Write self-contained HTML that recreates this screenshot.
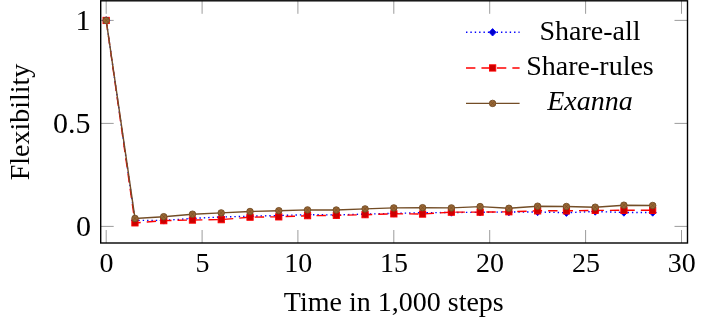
<!DOCTYPE html>
<html><head><meta charset="utf-8"><title>Flexibility chart</title>
<style>html,body{margin:0;padding:0;background:#fff;font-family:"Liberation Serif",serif}svg{display:block;will-change:transform}</style></head>
<body>
<svg width="705" height="326" viewBox="0 0 705 326">
<rect width="705" height="326" fill="#fff"/>
<path d="M106.2 243.0V230.0M106.2 0.8V13.8M202.1 243.0V230.0M202.1 0.8V13.8M297.9 243.0V230.0M297.9 0.8V13.8M393.8 243.0V230.0M393.8 0.8V13.8M489.7 243.0V230.0M489.7 0.8V13.8M585.6 243.0V230.0M585.6 0.8V13.8M681.5 243.0V230.0M681.5 0.8V13.8M100.7 226.4H113.7M687.5 226.4H674.5M100.7 123.4H113.7M687.5 123.4H674.5M100.7 20.4H113.7M687.5 20.4H674.5" stroke="#808080" stroke-width="0.78" fill="none"/>
<polyline points="106.2,20.4 135.0,220.4 163.7,220.4 192.5,218.4 221.2,217.0 250.0,216.2 278.8,215.5 307.5,214.7 336.3,214.9 365.1,214.1 393.8,213.4 422.6,212.7 451.4,212.5 480.1,212.3 508.9,212.0 537.6,212.0 566.4,212.7 595.2,211.5 623.9,212.5 652.7,212.5" fill="none" stroke="#0000ff" stroke-width="1.4" stroke-dasharray="1.4 2.97"/>
<path d="M106.2 16.7L109.7 20.4L106.2 24.1L102.7 20.4Z" fill="#0000cc" stroke="#0000ff" stroke-width="0.9" stroke-linejoin="miter"/>
<path d="M135.0 216.7L138.5 220.4L135.0 224.1L131.5 220.4Z" fill="#0000cc" stroke="#0000ff" stroke-width="0.9" stroke-linejoin="miter"/>
<path d="M163.7 216.7L167.2 220.4L163.7 224.1L160.2 220.4Z" fill="#0000cc" stroke="#0000ff" stroke-width="0.9" stroke-linejoin="miter"/>
<path d="M192.5 214.7L196.0 218.4L192.5 222.1L189.0 218.4Z" fill="#0000cc" stroke="#0000ff" stroke-width="0.9" stroke-linejoin="miter"/>
<path d="M221.2 213.3L224.8 217.0L221.2 220.7L217.8 217.0Z" fill="#0000cc" stroke="#0000ff" stroke-width="0.9" stroke-linejoin="miter"/>
<path d="M250.0 212.5L253.5 216.2L250.0 219.9L246.5 216.2Z" fill="#0000cc" stroke="#0000ff" stroke-width="0.9" stroke-linejoin="miter"/>
<path d="M278.8 211.8L282.3 215.5L278.8 219.2L275.3 215.5Z" fill="#0000cc" stroke="#0000ff" stroke-width="0.9" stroke-linejoin="miter"/>
<path d="M307.5 211.0L311.0 214.7L307.5 218.4L304.0 214.7Z" fill="#0000cc" stroke="#0000ff" stroke-width="0.9" stroke-linejoin="miter"/>
<path d="M336.3 211.2L339.8 214.9L336.3 218.6L332.8 214.9Z" fill="#0000cc" stroke="#0000ff" stroke-width="0.9" stroke-linejoin="miter"/>
<path d="M365.1 210.4L368.6 214.1L365.1 217.8L361.6 214.1Z" fill="#0000cc" stroke="#0000ff" stroke-width="0.9" stroke-linejoin="miter"/>
<path d="M393.8 209.7L397.3 213.4L393.8 217.1L390.3 213.4Z" fill="#0000cc" stroke="#0000ff" stroke-width="0.9" stroke-linejoin="miter"/>
<path d="M422.6 209.0L426.1 212.7L422.6 216.4L419.1 212.7Z" fill="#0000cc" stroke="#0000ff" stroke-width="0.9" stroke-linejoin="miter"/>
<path d="M451.4 208.8L454.9 212.5L451.4 216.2L447.9 212.5Z" fill="#0000cc" stroke="#0000ff" stroke-width="0.9" stroke-linejoin="miter"/>
<path d="M480.1 208.6L483.6 212.3L480.1 216.0L476.6 212.3Z" fill="#0000cc" stroke="#0000ff" stroke-width="0.9" stroke-linejoin="miter"/>
<path d="M508.9 208.3L512.4 212.0L508.9 215.7L505.4 212.0Z" fill="#0000cc" stroke="#0000ff" stroke-width="0.9" stroke-linejoin="miter"/>
<path d="M537.6 208.3L541.1 212.0L537.6 215.7L534.1 212.0Z" fill="#0000cc" stroke="#0000ff" stroke-width="0.9" stroke-linejoin="miter"/>
<path d="M566.4 209.0L569.9 212.7L566.4 216.4L562.9 212.7Z" fill="#0000cc" stroke="#0000ff" stroke-width="0.9" stroke-linejoin="miter"/>
<path d="M595.2 207.8L598.7 211.5L595.2 215.2L591.7 211.5Z" fill="#0000cc" stroke="#0000ff" stroke-width="0.9" stroke-linejoin="miter"/>
<path d="M623.9 208.8L627.4 212.5L623.9 216.2L620.4 212.5Z" fill="#0000cc" stroke="#0000ff" stroke-width="0.9" stroke-linejoin="miter"/>
<path d="M652.7 208.8L656.2 212.5L652.7 216.2L649.2 212.5Z" fill="#0000cc" stroke="#0000ff" stroke-width="0.9" stroke-linejoin="miter"/>
<polyline points="106.2,20.4 135.0,222.9 163.7,220.6 192.5,220.0 221.2,219.6 250.0,217.2 278.8,216.8 307.5,215.7 336.3,215.4 365.1,214.7 393.8,213.8 422.6,214.0 451.4,212.1 480.1,212.1 508.9,211.8 537.6,210.8 566.4,210.8 595.2,210.4 623.9,210.3 652.7,210.3" fill="none" stroke="#ff0000" stroke-width="1.4" stroke-dasharray="9.4 6.05"/>
<rect x="103.0" y="17.3" width="6.3" height="6.3" fill="#cc0000" stroke="#ff0000" stroke-width="0.9"/>
<rect x="131.8" y="219.7" width="6.3" height="6.3" fill="#cc0000" stroke="#ff0000" stroke-width="0.9"/>
<rect x="160.6" y="217.5" width="6.3" height="6.3" fill="#cc0000" stroke="#ff0000" stroke-width="0.9"/>
<rect x="189.3" y="216.9" width="6.3" height="6.3" fill="#cc0000" stroke="#ff0000" stroke-width="0.9"/>
<rect x="218.1" y="216.5" width="6.3" height="6.3" fill="#cc0000" stroke="#ff0000" stroke-width="0.9"/>
<rect x="246.9" y="214.0" width="6.3" height="6.3" fill="#cc0000" stroke="#ff0000" stroke-width="0.9"/>
<rect x="275.6" y="213.7" width="6.3" height="6.3" fill="#cc0000" stroke="#ff0000" stroke-width="0.9"/>
<rect x="304.4" y="212.5" width="6.3" height="6.3" fill="#cc0000" stroke="#ff0000" stroke-width="0.9"/>
<rect x="333.2" y="212.2" width="6.3" height="6.3" fill="#cc0000" stroke="#ff0000" stroke-width="0.9"/>
<rect x="361.9" y="211.5" width="6.3" height="6.3" fill="#cc0000" stroke="#ff0000" stroke-width="0.9"/>
<rect x="390.7" y="210.7" width="6.3" height="6.3" fill="#cc0000" stroke="#ff0000" stroke-width="0.9"/>
<rect x="419.4" y="210.9" width="6.3" height="6.3" fill="#cc0000" stroke="#ff0000" stroke-width="0.9"/>
<rect x="448.2" y="209.0" width="6.3" height="6.3" fill="#cc0000" stroke="#ff0000" stroke-width="0.9"/>
<rect x="477.0" y="209.0" width="6.3" height="6.3" fill="#cc0000" stroke="#ff0000" stroke-width="0.9"/>
<rect x="505.7" y="208.6" width="6.3" height="6.3" fill="#cc0000" stroke="#ff0000" stroke-width="0.9"/>
<rect x="534.5" y="207.7" width="6.3" height="6.3" fill="#cc0000" stroke="#ff0000" stroke-width="0.9"/>
<rect x="563.3" y="207.7" width="6.3" height="6.3" fill="#cc0000" stroke="#ff0000" stroke-width="0.9"/>
<rect x="592.0" y="207.2" width="6.3" height="6.3" fill="#cc0000" stroke="#ff0000" stroke-width="0.9"/>
<rect x="620.8" y="207.2" width="6.3" height="6.3" fill="#cc0000" stroke="#ff0000" stroke-width="0.9"/>
<rect x="649.5" y="207.2" width="6.3" height="6.3" fill="#cc0000" stroke="#ff0000" stroke-width="0.9"/>
<polyline points="106.2,20.4 135.0,218.4 163.7,216.7 192.5,214.2 221.2,212.9 250.0,211.5 278.8,210.7 307.5,209.9 336.3,210.0 365.1,208.9 393.8,207.9 422.6,207.7 451.4,207.9 480.1,206.6 508.9,208.3 537.6,206.2 566.4,206.5 595.2,207.2 623.9,205.2 652.7,205.5" fill="none" stroke="#734d26" stroke-width="1.4"/>
<circle cx="106.2" cy="20.4" r="3.25" fill="#996633" stroke="#734d26" stroke-width="0.9"/><path d="M103.9 18.1L108.5 22.7M103.9 22.7L108.5 18.1" stroke="#734d26" stroke-width="0.6" fill="none"/>
<circle cx="135.0" cy="218.4" r="3.25" fill="#996633" stroke="#734d26" stroke-width="0.9"/><path d="M132.7 216.1L137.3 220.7M132.7 220.7L137.3 216.1" stroke="#734d26" stroke-width="0.6" fill="none"/>
<circle cx="163.7" cy="216.7" r="3.25" fill="#996633" stroke="#734d26" stroke-width="0.9"/><path d="M161.4 214.4L166.0 219.0M161.4 219.0L166.0 214.4" stroke="#734d26" stroke-width="0.6" fill="none"/>
<circle cx="192.5" cy="214.2" r="3.25" fill="#996633" stroke="#734d26" stroke-width="0.9"/><path d="M190.2 211.9L194.8 216.5M190.2 216.5L194.8 211.9" stroke="#734d26" stroke-width="0.6" fill="none"/>
<circle cx="221.2" cy="212.9" r="3.25" fill="#996633" stroke="#734d26" stroke-width="0.9"/><path d="M218.9 210.6L223.6 215.2M218.9 215.2L223.6 210.6" stroke="#734d26" stroke-width="0.6" fill="none"/>
<circle cx="250.0" cy="211.5" r="3.25" fill="#996633" stroke="#734d26" stroke-width="0.9"/><path d="M247.7 209.2L252.3 213.8M247.7 213.8L252.3 209.2" stroke="#734d26" stroke-width="0.6" fill="none"/>
<circle cx="278.8" cy="210.7" r="3.25" fill="#996633" stroke="#734d26" stroke-width="0.9"/><path d="M276.5 208.4L281.1 213.0M276.5 213.0L281.1 208.4" stroke="#734d26" stroke-width="0.6" fill="none"/>
<circle cx="307.5" cy="209.9" r="3.25" fill="#996633" stroke="#734d26" stroke-width="0.9"/><path d="M305.2 207.6L309.8 212.2M305.2 212.2L309.8 207.6" stroke="#734d26" stroke-width="0.6" fill="none"/>
<circle cx="336.3" cy="210.0" r="3.25" fill="#996633" stroke="#734d26" stroke-width="0.9"/><path d="M334.0 207.7L338.6 212.3M334.0 212.3L338.6 207.7" stroke="#734d26" stroke-width="0.6" fill="none"/>
<circle cx="365.1" cy="208.9" r="3.25" fill="#996633" stroke="#734d26" stroke-width="0.9"/><path d="M362.8 206.6L367.4 211.2M362.8 211.2L367.4 206.6" stroke="#734d26" stroke-width="0.6" fill="none"/>
<circle cx="393.8" cy="207.9" r="3.25" fill="#996633" stroke="#734d26" stroke-width="0.9"/><path d="M391.5 205.6L396.1 210.2M391.5 210.2L396.1 205.6" stroke="#734d26" stroke-width="0.6" fill="none"/>
<circle cx="422.6" cy="207.7" r="3.25" fill="#996633" stroke="#734d26" stroke-width="0.9"/><path d="M420.3 205.4L424.9 210.0M420.3 210.0L424.9 205.4" stroke="#734d26" stroke-width="0.6" fill="none"/>
<circle cx="451.4" cy="207.9" r="3.25" fill="#996633" stroke="#734d26" stroke-width="0.9"/><path d="M449.1 205.6L453.7 210.2M449.1 210.2L453.7 205.6" stroke="#734d26" stroke-width="0.6" fill="none"/>
<circle cx="480.1" cy="206.6" r="3.25" fill="#996633" stroke="#734d26" stroke-width="0.9"/><path d="M477.8 204.3L482.4 208.9M477.8 208.9L482.4 204.3" stroke="#734d26" stroke-width="0.6" fill="none"/>
<circle cx="508.9" cy="208.3" r="3.25" fill="#996633" stroke="#734d26" stroke-width="0.9"/><path d="M506.6 206.0L511.2 210.6M506.6 210.6L511.2 206.0" stroke="#734d26" stroke-width="0.6" fill="none"/>
<circle cx="537.6" cy="206.2" r="3.25" fill="#996633" stroke="#734d26" stroke-width="0.9"/><path d="M535.3 203.9L539.9 208.5M535.3 208.5L539.9 203.9" stroke="#734d26" stroke-width="0.6" fill="none"/>
<circle cx="566.4" cy="206.5" r="3.25" fill="#996633" stroke="#734d26" stroke-width="0.9"/><path d="M564.1 204.2L568.7 208.8M564.1 208.8L568.7 204.2" stroke="#734d26" stroke-width="0.6" fill="none"/>
<circle cx="595.2" cy="207.2" r="3.25" fill="#996633" stroke="#734d26" stroke-width="0.9"/><path d="M592.9 204.9L597.5 209.5M592.9 209.5L597.5 204.9" stroke="#734d26" stroke-width="0.6" fill="none"/>
<circle cx="623.9" cy="205.2" r="3.25" fill="#996633" stroke="#734d26" stroke-width="0.9"/><path d="M621.6 202.9L626.2 207.5M621.6 207.5L626.2 202.9" stroke="#734d26" stroke-width="0.6" fill="none"/>
<circle cx="652.7" cy="205.5" r="3.25" fill="#996633" stroke="#734d26" stroke-width="0.9"/><path d="M650.4 203.2L655.0 207.8M650.4 207.8L655.0 203.2" stroke="#734d26" stroke-width="0.6" fill="none"/>
<rect x="100.7" y="0.8" width="586.8" height="242.2" fill="none" stroke="#000" stroke-width="1.4"/>
<path d="M466.0 32.3H519.6" stroke="#0000ff" stroke-width="1.4" stroke-dasharray="1.4 2.97" fill="none"/>
<path d="M492.6 28.6L496.1 32.3L492.6 36.0L489.1 32.3Z" fill="#0000cc" stroke="#0000ff" stroke-width="0.9" stroke-linejoin="miter"/>
<path d="M466.0 68.0H519.6" stroke="#ff0000" stroke-width="1.4" stroke-dasharray="9.4 6.05" fill="none"/>
<rect x="489.5" y="64.8" width="6.3" height="6.3" fill="#cc0000" stroke="#ff0000" stroke-width="0.9"/>
<path d="M466.0 103.4H519.6" stroke="#734d26" stroke-width="1.4" fill="none"/>
<circle cx="492.6" cy="103.4" r="3.25" fill="#996633" stroke="#734d26" stroke-width="0.9"/><path d="M490.3 101.1L494.9 105.7M490.3 105.7L494.9 101.1" stroke="#734d26" stroke-width="0.6" fill="none"/>
<text x="590" y="40.3" text-anchor="middle" font-family="Liberation Serif, serif" font-size="28" fill="#000">Share-all</text>
<text x="590" y="75.3" text-anchor="middle" font-family="Liberation Serif, serif" font-size="28" fill="#000">Share-rules</text>
<text x="590" y="110.4" text-anchor="middle" font-style="italic" font-family="Liberation Serif, serif" font-size="28" fill="#000">Exanna</text>
<text x="106.5" y="271.6" text-anchor="middle" font-family="Liberation Serif, serif" font-size="28" fill="#000">0</text>
<text x="202.4" y="271.6" text-anchor="middle" font-family="Liberation Serif, serif" font-size="28" fill="#000">5</text>
<text x="298.2" y="271.6" text-anchor="middle" font-family="Liberation Serif, serif" font-size="28" fill="#000">10</text>
<text x="394.1" y="271.6" text-anchor="middle" font-family="Liberation Serif, serif" font-size="28" fill="#000">15</text>
<text x="490.0" y="271.6" text-anchor="middle" font-family="Liberation Serif, serif" font-size="28" fill="#000">20</text>
<text x="585.9" y="271.6" text-anchor="middle" font-family="Liberation Serif, serif" font-size="28" fill="#000">25</text>
<text x="681.8" y="271.6" text-anchor="middle" font-family="Liberation Serif, serif" font-size="28" fill="#000">30</text>
<text x="91.0" y="235.6" text-anchor="end" font-family="Liberation Serif, serif" font-size="30" fill="#000">0</text>
<text x="90.5" y="132.6" text-anchor="end" font-family="Liberation Serif, serif" font-size="30" fill="#000">0.5</text>
<text x="90.6" y="29.6" text-anchor="end" font-family="Liberation Serif, serif" font-size="30" fill="#000">1</text>
<text x="393.8" y="310.9" text-anchor="middle" font-family="Liberation Serif, serif" font-size="28" fill="#000">Time in 1,000 steps</text>
<text transform="translate(28.5,122.0) rotate(-90)" text-anchor="middle" font-family="Liberation Serif, serif" font-size="28" fill="#000">Flexibility</text>
</svg>
</body></html>
